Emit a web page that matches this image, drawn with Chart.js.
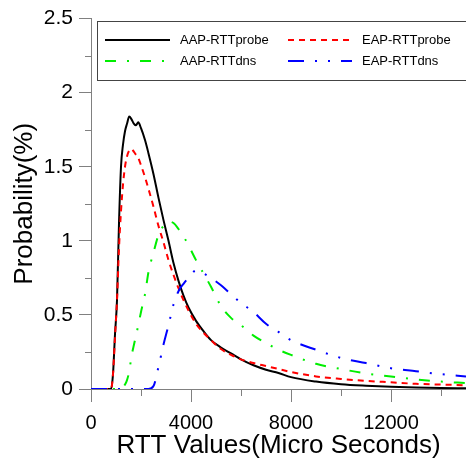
<!DOCTYPE html>
<html>
<head>
<meta charset="utf-8">
<script src="https://cdn.jsdelivr.net/npm/chart.js@4.4.1/dist/chart.umd.min.js"></script>
<style>
  html, body { margin: 0; padding: 0; background: #fff; }
  #wrap { width: 466px; height: 461px; }
</style>
</head>
<body>
<div id="wrap"><canvas id="rtt" width="466" height="461"></canvas></div>
<script>
// RTT values (micro seconds), shared by all series
const rttValues = [0, 800, 880, 960, 1040, 1120, 1200, 1280, 1360, 1440, 1530, 1620, 1720, 1800, 1890,
    2000, 2160, 2300, 2500, 2700, 2900, 3100, 3300, 3500, 3700, 3900, 4200, 4500, 4800, 5200, 5600,
    6000, 6500, 7000, 7500, 8000, 9000, 10000, 11000, 12000, 13000, 14000, 15000];

// probability (%) per series
const aapProbe = [0, 0, 0.1, 0.37, 0.6, 1.12, 1.5, 1.65, 1.74, 1.79, 1.84, 1.82, 1.79, 1.78, 1.8,
    1.76, 1.68, 1.59, 1.45, 1.29, 1.14, 1.0, 0.85, 0.73, 0.63, 0.55, 0.46, 0.39, 0.33, 0.28, 0.24,
    0.2, 0.16, 0.13, 0.108, 0.08, 0.05, 0.032, 0.022, 0.015, 0.01, 0.007, 0.005];
const eapProbe = [0, 0, 0.1, 0.35, 0.6, 0.95, 1.2, 1.38, 1.5, 1.57, 1.61, 1.62, 1.6, 1.58, 1.56,
    1.51, 1.43, 1.35, 1.23, 1.1, 0.99, 0.87, 0.77, 0.68, 0.6, 0.53, 0.44, 0.38, 0.33, 0.27, 0.23,
    0.2, 0.175, 0.155, 0.135, 0.115, 0.085, 0.068, 0.055, 0.045, 0.035, 0.03, 0.025];
const aapDns = [0, 0, 0, 0, 0, 0, 0, 0.01, 0.03, 0.06, 0.12, 0.22, 0.3, 0.36, 0.43,
    0.52, 0.64, 0.79, 0.92, 1.04, 1.1, 1.13, 1.12, 1.08, 1.03, 0.97, 0.87, 0.78, 0.69, 0.56, 0.48,
    0.43, 0.36, 0.31, 0.265, 0.23, 0.17, 0.135, 0.105, 0.085, 0.065, 0.05, 0.04];
const eapDns = [0, 0, 0, 0, 0, 0, 0, 0, 0, 0, 0, 0, 0, 0, 0,
    0, 0, 0, 0.02, 0.15, 0.3, 0.43, 0.57, 0.66, 0.71, 0.75, 0.8, 0.78, 0.75, 0.7, 0.64,
    0.58, 0.52, 0.44, 0.385, 0.33, 0.265, 0.21, 0.175, 0.14, 0.12, 0.1, 0.085];

const seriesNames = ["AAP-RTTprobe", "EAP-RTTprobe", "AAP-RTTdns", "EAP-RTTdns"];

// axis ticks: every value gets a tick mark, only the labelled ones get a long tick
const xTicks = [0, 2000, 4000, 6000, 8000, 10000, 12000, 14000];
const xLabels = [0, 4000, 8000, 12000];
const yTicks = [0, 0.25, 0.5, 0.75, 1, 1.25, 1.5, 1.75, 2, 2.25, 2.5];
const yLabels = [0, 0.5, 1, 1.5, 2, 2.5];

const FONT = "'Liberation Sans', Arial, sans-serif";
const AXIS = "#808080";

function pts(arr) {
    return rttValues.map((x, i) => ({ x: x, y: arr[i] }));
}

// short minor ticks + the boxed legend
const extras = {
    id: "extras",
    afterDraw(chart) {
        const c = chart.ctx;
        const xs = chart.scales.x, ys = chart.scales.y;
        c.save();
        c.strokeStyle = AXIS;
        c.lineWidth = 1;
        c.beginPath();
        xTicks.filter(v => !xLabels.includes(v)).forEach(v => {
            const px = Math.round(xs.getPixelForValue(v)) + 0.5;
            c.moveTo(px, ys.bottom);
            c.lineTo(px, ys.bottom + 7);
        });
        yTicks.filter(v => !yLabels.includes(v)).forEach(v => {
            const py = Math.round(ys.getPixelForValue(v)) + 0.5;
            c.moveTo(xs.left, py);
            c.lineTo(xs.left - 6, py);
        });
        c.stroke();

        // legend
        c.fillStyle = "#fff";
        c.fillRect(97.5, 21.5, 370, 59);
        c.strokeStyle = "#444";
        c.strokeRect(97.5, 21.5, 370, 59);
        const cols = [[105, 170, 180], [288, 352, 362]];
        const rows = [40, 61];
        chart.data.datasets.forEach((ds, i) => {
            const col = cols[i % 2], y = rows[Math.floor(i / 2)];
            c.strokeStyle = ds.borderColor;
            c.lineWidth = 2;
            c.setLineDash(ds.borderDash || []);
            c.beginPath();
            c.moveTo(col[0], y);
            c.lineTo(col[1], y);
            c.stroke();
            c.setLineDash([]);
            c.fillStyle = "#000";
            c.font = "13px " + FONT;
            c.textBaseline = "middle";
            c.fillText(ds.label, col[2], y);
        });
        c.restore();
    }
};

document.addEventListener("DOMContentLoaded", function () {
    const ctx = document.getElementById("rtt").getContext("2d");
    new Chart(ctx, {
        type: "line",
        data: {
            datasets: [
                { label: seriesNames[0], data: pts(aapProbe), borderColor: "#000000", borderDash: [], order: 4 },
                { label: seriesNames[1], data: pts(eapProbe), borderColor: "#ff0000", borderDash: [6, 5], order: 3 },
                { label: seriesNames[2], data: pts(aapDns), borderColor: "#00ee00", borderDash: [11, 11, 2, 11], order: 2 },
                { label: seriesNames[3], data: pts(eapDns), borderColor: "#0000ff", borderDash: [16, 11, 2, 11, 2, 11], order: 1 }
            ]
        },
        options: {
            responsive: false,
            animation: false,
            layout: { padding: { top: 15, right: 0, left: 0, bottom: 0 } },
            elements: {
                point: { radius: 0 },
                line: { borderWidth: 2, fill: false, cubicInterpolationMode: "monotone" }
            },
            plugins: {
                legend: { display: false },
                tooltip: { enabled: false }
            },
            scales: {
                x: {
                    type: "linear",
                    min: 0,
                    max: 15000,
                    afterFit: s => { s.height = 72; },
                    afterBuildTicks: s => { s.ticks = xLabels.map(v => ({ value: v })); },
                    ticks: {
                        autoSkip: false,
                        maxRotation: 0,
                        padding: 9,
                        color: "#000",
                        font: { family: FONT, size: 20 },
                        callback: v => String(v)
                    },
                    grid: {
                        drawOnChartArea: false,
                        tickLength: 13,
                        tickColor: AXIS
                    },
                    border: { color: AXIS, width: 1 },
                    title: {
                        display: true,
                        text: "RTT Values(Micro Seconds)",
                        color: "#000",
                        font: { family: FONT, size: 26 },
                        padding: { top: 0, bottom: 0 }
                    }
                },
                y: {
                    min: 0,
                    max: 2.5,
                    afterFit: s => { s.width = 91; },
                    afterBuildTicks: s => { s.ticks = yLabels.map(v => ({ value: v })); },
                    ticks: {
                        autoSkip: false,
                        padding: 6,
                        color: "#000",
                        font: { family: FONT, size: 21 },
                        callback: v => String(v)
                    },
                    grid: {
                        drawOnChartArea: false,
                        tickLength: 12,
                        tickColor: AXIS
                    },
                    border: { color: AXIS, width: 1 },
                    title: {
                        display: true,
                        text: "Probability(%)",
                        color: "#000",
                        font: { family: FONT, size: 26 },
                        padding: { top: 9, bottom: 0 }
                    }
                }
            }
        },
        plugins: [extras]
    });
});
</script>
</body>
</html>
